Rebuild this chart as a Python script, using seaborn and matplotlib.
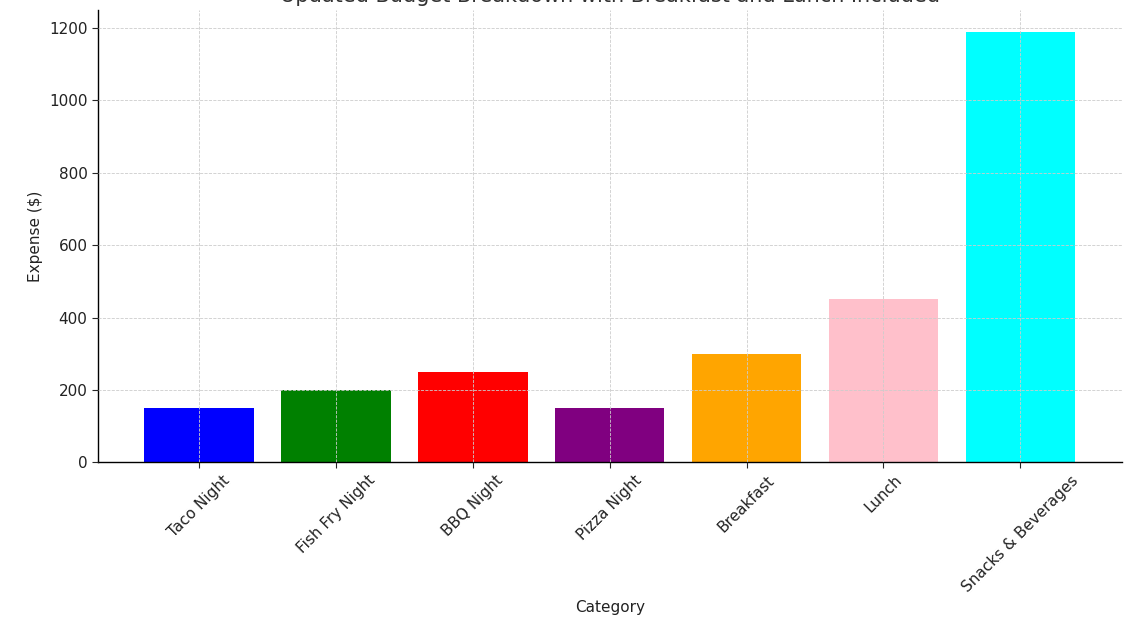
import pandas as pd
import seaborn as sns
import matplotlib
import matplotlib.pyplot as plt

matplotlib.use('Agg')

categories = ['Taco Night', 'Fish Fry Night', 'BBQ Night', 'Pizza Night',
              'Breakfast', 'Lunch', 'Snacks & Beverages']
expenses = [150, 200, 250, 150, 300, 450, 1190]
colors = ['blue', 'green', 'red', 'purple', 'orange', 'pink', 'cyan']


def make_plot():
    df = pd.DataFrame({'Category': categories, 'Expense': expenses})
    sns.set_style('white')
    plt.rcParams['font.family'] = ['DejaVu Sans']

    fig, ax = plt.subplots(figsize=(11.25, 6.23), dpi=100)
    fig.subplots_adjust(left=0.087, right=0.997, top=0.984, bottom=0.258)

    sns.barplot(data=df, x='Category', y='Expense', hue='Category',
                palette=colors, saturation=1, width=0.8, legend=False,
                linewidth=0, ax=ax)

    ax.set_xlim(-0.74, len(categories) - 0.26)
    ax.set_ylim(0, 1250)
    ax.set_title('Updated Budget Breakdown with Breakfast and Lunch Included',
                 fontsize=15, color='#333333')
    ax.set_xlabel('Category', fontsize=11, color='#222222')
    ax.set_ylabel('Expense ($)', fontsize=11, color='#222222')
    ax.tick_params(axis='both', labelsize=11, length=4, bottom=True, left=True,
                   labelcolor='#222222')
    plt.setp(ax.get_xticklabels(), rotation=45, ha='center',
             rotation_mode='default')

    ax.set_axisbelow(False)
    ax.grid(True, linestyle='--', linewidth=0.6, color='#cccccc')
    for side in ['top', 'right']:
        ax.spines[side].set_visible(False)
    for side in ['left', 'bottom']:
        ax.spines[side].set_color('black')
        ax.spines[side].set_linewidth(1.0)

    fig.savefig('out.png', dpi=100)


make_plot()
